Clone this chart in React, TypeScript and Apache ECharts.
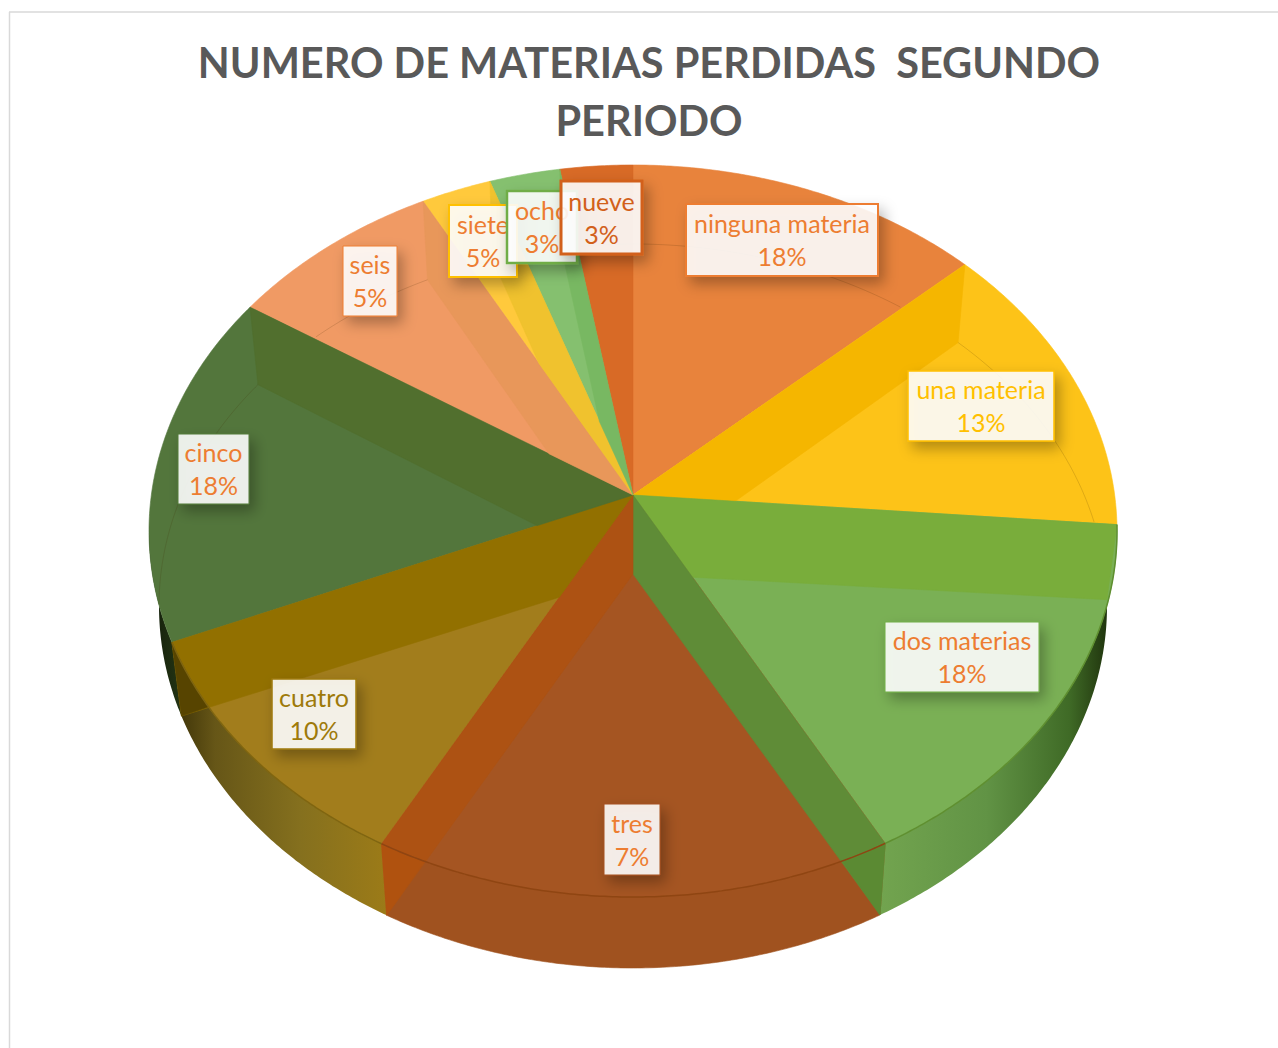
import React, { useEffect, useRef } from "react";
import * as echarts from "echarts";

const titleText = "NUMERO DE MATERIAS PERDIDAS  SEGUNDO\nPERIODO";
const categories = ["ninguna materia", "una materia", "dos materias", "tres", "cuatro", "cinco", "seis", "siete", "ocho", "nueve"];
const labelPercents = [18, 13, 18, 7, 10, 18, 5, 5, 3, 3];
// Drawn size of each slice, in degrees of the pie
const sliceDegrees = [43.3, 45.7, 59.6, 62.7, 41, 55.4, 26.6, 8.5, 8.5, 8.7];

// ---- styles and layout (not data) ----
const topColors = ["#E8833C", "#FDC318", "#7AB055", "#A55522", "#A27D1C", "#53763C", "#F09A64", "#FFC93C", "#85C06F", "#D86A26"];
const startBand: (string | null)[] = [null, "#F5B600", "#79AD3B", "#5F8C37", null, null, null, null, null, null];
const endBand: (string | null)[] = [null, null, null, "#AD5213", "#927000", "#516F2E", "#E8975A", "#F0C22E", "#78B862", null];
const startPiece: (string | null)[] = [null, null, null, "#5B8A33", null, null, null, null, null, null];
const endPiece: (string | null)[] = [null, null, null, "#B0520F", "#574400", null, null, null, null, null];
const hGrad = (stops: [number, string][]) => ({
  type: "linear", x: 0, y: 0, x2: 1, y2: 0,
  colorStops: stops.map(([offset, color]) => ({ offset, color })),
});
const wallFills: any[] = [
  "#000", "#000",
  hGrad([[0, "#72A44F"], [0.45, "#619345"], [0.8, "#3F6A26"], [0.95, "#22380F"], [1, "#14220A"]]),
  "#A0521F",
  hGrad([[0, "#3A3006"], [0.2, "#665617"], [0.6, "#85701E"], [1, "#9C7B18"]]),
  hGrad([[0, "#121C0A"], [1, "#243514"]]),
  "#000", "#000", "#000", "#000",
];
const rimLine: (string | null)[] = [null, null, "#5F8F30", "#8F4512", "#7F6510", null, null, null, null, null];
const labelBoxes = [
  [686, 204, 192, 72], [908, 371, 146, 70], [885, 622, 154, 70], [604, 804, 56, 71], [272, 679, 84, 70],
  [178, 434, 71, 70], [343, 246, 54, 70], [449, 205, 68, 72], [507, 191, 70, 72], [561, 181, 81, 73],
];
const labelBorders = ["#ED7D31", "#FFC000", "#70AD47", "#A5511F", "#9E7A0A", "#537A3A", "#ED7D31", "#FFC000", "#70AD47", "#D2601A"];
const borderWidths = [2, 1.5, 1, 1, 1.5, 1, 1, 2, 2.5, 3];
const labelColors = ["#ED7D31", "#FFC000", "#ED7D31", "#ED7D31", "#9E7A0A", "#ED7D31", "#ED7D31", "#ED7D31", "#ED7D31", "#D2601A"];
const FONT = "Lato, Carlito, 'Open Sans', sans-serif";

const TOP = { cx: 633, cy: 531, rx: 484, ry: 366 };
const LOW = { cx: 633, cy: 606, rx: 474, ry: 362 };
const APEX_TOP: number[] = [633, 495];
const APEX_LOW: number[] = [633, 574];

const rad = (d: number) => (d * Math.PI) / 180;
const rim = (e: typeof TOP, deg: number): number[] => [e.cx + e.rx * Math.sin(rad(deg)), e.cy - e.ry * Math.cos(rad(deg))];
const startOf = (i: number) => sliceDegrees.slice(0, i).reduce((a, b) => a + b, 0);
const arc = (e: typeof TOP, a: number, b: number) => {
  const n = Math.max(2, Math.ceil(Math.abs(b - a) / 0.5));
  const out: number[][] = [];
  for (let k = 0; k <= n; k++) out.push(rim(e, a + ((b - a) * k) / n));
  return out;
};
const cross = (o: number[], a: number[], b: number[]) => (a[0] - o[0]) * (b[1] - o[1]) - (a[1] - o[1]) * (b[0] - o[0]);
// keep the part of a polygon on the positive side of the line o->a
const clipSide = (poly: number[][], o: number[], a: number[]) => {
  const out: number[][] = [];
  for (let i = 0; i < poly.length; i++) {
    const p = poly[i], q = poly[(i + 1) % poly.length];
    const cp = cross(o, a, p), cq = cross(o, a, q);
    if (cp >= 0) out.push(p);
    if ((cp >= 0) !== (cq >= 0)) {
      const t = cp / (cp - cq);
      out.push([p[0] + (q[0] - p[0]) * t, p[1] + (q[1] - p[1]) * t]);
    }
  }
  return out;
};
const clipWedge = (poly: number[][], a: number, b: number) => {
  const A = rim(TOP, a), B = rim(TOP, b);
  const flipped = [2 * APEX_TOP[0] - B[0], 2 * APEX_TOP[1] - B[1]];
  return clipSide(clipSide(poly, APEX_TOP, A), APEX_TOP, flipped);
};
const bandQuad = (deg: number) => [APEX_TOP, rim(TOP, deg), rim(LOW, deg), APEX_LOW];
const poly = (points: number[][], fill: any, extra: any = {}) => ({
  type: "polygon",
  shape: { points },
  style: { fill, stroke: typeof fill === "string" ? fill : "none", lineWidth: 0.6, ...extra },
});

const pieData = sliceDegrees.map((v, i) => [i, v]);

const renderWall = (_p: any, api: any) => {
  const i = api.value(0);
  const a = startOf(i), b = a + api.value(1);
  const from = Math.max(a, 89), to = Math.min(b, 271);
  if (to <= from) return { type: "group", children: [] };
  return poly([...arc(TOP, from, to), ...arc(LOW, to, from)], wallFills[i]);
};
const renderTop = (_p: any, api: any) => {
  const i = api.value(0);
  const a = startOf(i), b = a + api.value(1);
  return poly([APEX_TOP, ...arc(TOP, a, b)], topColors[i]);
};
const renderBands = (_p: any, api: any) => {
  const i = api.value(0);
  const a = startOf(i), b = a + api.value(1);
  const children: any[] = [];
  const add = (deg: number, color: string | null, piece: string | null, dir: number) => {
    if (!color) return;
    const quad = bandQuad(deg);
    children.push(poly(clipWedge(quad, a, b), color));
    if (piece) {
      // the part of the band that hangs below the top rim
      const low = rim(LOW, deg);
      const pts: number[][] = [];
      for (let k = 0; k < 120; k++) {
        const t = deg + (dir * k) / 4;
        const p = rim(TOP, t);
        if (cross(APEX_LOW, low, p) * -dir < 0) break;
        pts.push(p);
      }
      children.push(poly([...pts, low], piece));
    }
  };
  add(a, startBand[i], startPiece[i], 1);
  add(b, endBand[i], endPiece[i], -1);
  // faint far rim seen through the top of the back slices
  if (!rimLine[i]) {
    const inner = arc(LOW, a, b).filter((p) => {
      const c = clipWedge([p, [p[0] + 0.01, p[1]], [p[0], p[1] + 0.01]], a, b);
      const dx = (p[0] - TOP.cx) / TOP.rx, dy = (p[1] - TOP.cy) / TOP.ry;
      return c.length > 2 && dx * dx + dy * dy < 1;
    });
    if (inner.length > 1) {
      children.push({
        type: "polyline",
        shape: { points: inner },
        style: { fill: "none", stroke: "rgba(60,40,0,0.16)", lineWidth: 1 },
      });
    }
  } else {
    children.push({
      type: "polyline",
      shape: { points: arc(TOP, Math.max(a, 89), Math.min(b, 271)) },
      style: { fill: "none", stroke: rimLine[i], lineWidth: 1.5 },
    });
  }
  return { type: "group", children };
};
const renderLabel = (_p: any, api: any) => {
  const i = api.value(0);
  const [x, y, w, h] = labelBoxes[i];
  return {
    type: "group",
    children: [
      {
        type: "rect",
        shape: { x, y, width: w, height: h },
        style: {
          fill: "rgba(255,255,255,0.88)",
          stroke: labelBorders[i],
          lineWidth: borderWidths[i],
          shadowBlur: 14,
          shadowOffsetX: 5,
          shadowOffsetY: 7,
          shadowColor: "rgba(0,0,0,0.33)",
        },
      },
      {
        type: "text",
        style: {
          x: x + w / 2,
          y: y + h / 2 - 0.5,
          text: `${categories[i]}\n${labelPercents[i]}%`,
          fill: labelColors[i],
          fontFamily: FONT,
          fontSize: 25,
          lineHeight: 33,
          align: "center",
          verticalAlign: "middle",
        },
      },
    ],
  };
};

export default function App() {
  const ref = useRef<HTMLDivElement>(null);
  useEffect(() => {
    document.body.style.margin = "0";
    const chart = echarts.init(ref.current!, null, { renderer: "svg" });
    const custom = (renderItem: any, z: number) => ({
      type: "custom",
      coordinateSystem: "none",
      silent: true,
      clip: false,
      z,
      renderItem,
      data: pieData,
    });
    chart.setOption({
      animation: false,
      backgroundColor: "#FFFFFF",
      title: {
        text: titleText,
        left: 644,
        top: 28,
        textAlign: "center",
        textStyle: { fontFamily: FONT, fontWeight: "bold", fontSize: 41.5, lineHeight: 58, color: "#595959" },
      },
      graphic: [
        { type: "line", shape: { x1: 9.5, y1: 12, x2: 9.5, y2: 1048 }, style: { stroke: "#D9D9D9", lineWidth: 1.5 } },
        { type: "line", shape: { x1: 9, y1: 12, x2: 1278, y2: 12 }, style: { stroke: "#D9D9D9", lineWidth: 1.5 } },
      ],
      series: [custom(renderWall, 1), custom(renderTop, 2), custom(renderBands, 3), custom(renderLabel, 4)],
    });
    return () => chart.dispose();
  }, []);
  return <div ref={ref} style={{ position: "absolute", left: 0, top: 0, width: 1278, height: 1048 }} />;
}
